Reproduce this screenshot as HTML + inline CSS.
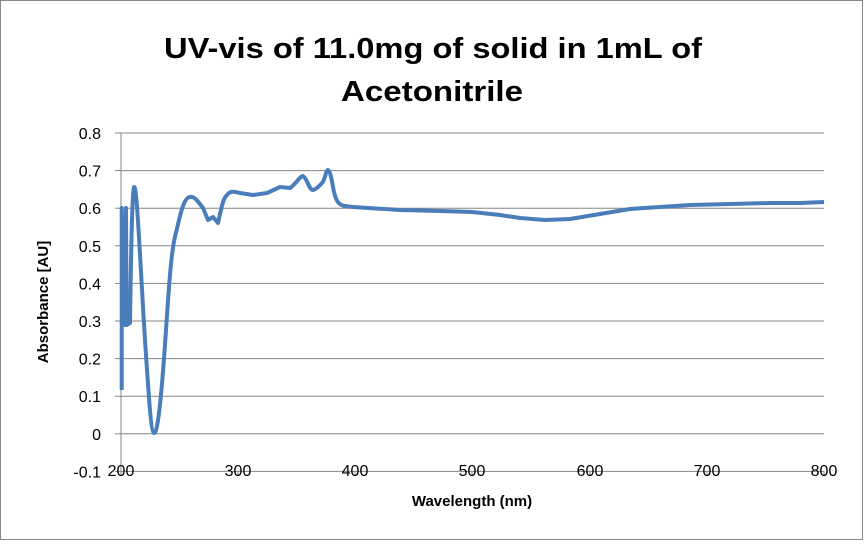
<!DOCTYPE html>
<html><head><style>body{margin:0;background:#fff}</style></head><body>
<svg width="864" height="541" viewBox="0 0 864 541" xmlns="http://www.w3.org/2000/svg" font-family="Liberation Sans, sans-serif">
<rect x="0.5" y="0.5" width="862" height="539" fill="#fff" stroke="#888"/>
<text x="433" y="58" font-size="29" font-weight="bold" text-anchor="middle" textLength="538" lengthAdjust="spacingAndGlyphs">UV-vis of 11.0mg of solid in 1mL of</text>
<text x="432" y="101" font-size="29" font-weight="bold" text-anchor="middle" textLength="182" lengthAdjust="spacingAndGlyphs">Acetonitrile</text>
<g stroke="#868686" stroke-width="1">
<line x1="121" y1="133" x2="824" y2="133"/><line x1="121" y1="170.6" x2="824" y2="170.6"/>
<line x1="121" y1="208.2" x2="824" y2="208.2"/><line x1="121" y1="245.8" x2="824" y2="245.8"/>
<line x1="121" y1="283.4" x2="824" y2="283.4"/><line x1="121" y1="321" x2="824" y2="321"/>
<line x1="121" y1="358.6" x2="824" y2="358.6"/><line x1="121" y1="396.2" x2="824" y2="396.2"/>
<line x1="121" y1="433.8" x2="824" y2="433.8"/><line x1="115" y1="471.4" x2="824" y2="471.4"/>
<line x1="121" y1="133" x2="121" y2="476"/>
<line x1="238" y1="471" x2="238" y2="476"/><line x1="355" y1="471" x2="355" y2="476"/><line x1="472" y1="471" x2="472" y2="476"/><line x1="590" y1="471" x2="590" y2="476"/><line x1="707" y1="471" x2="707" y2="476"/><line x1="824" y1="471" x2="824" y2="476"/>
<line x1="115" y1="133" x2="121" y2="133"/><line x1="115" y1="170.6" x2="121" y2="170.6"/><line x1="115" y1="208.2" x2="121" y2="208.2"/><line x1="115" y1="245.8" x2="121" y2="245.8"/><line x1="115" y1="283.4" x2="121" y2="283.4"/><line x1="115" y1="321" x2="121" y2="321"/><line x1="115" y1="358.6" x2="121" y2="358.6"/><line x1="115" y1="396.2" x2="121" y2="396.2"/><line x1="115" y1="433.8" x2="121" y2="433.8"/>
</g>
<g font-size="16" text-anchor="end">
<text x="101" y="139">0.8</text><text x="101" y="176.6">0.7</text><text x="101" y="214.2">0.6</text><text x="101" y="251.8">0.5</text><text x="101" y="289.4">0.4</text><text x="101" y="327">0.3</text><text x="101" y="364.6">0.2</text><text x="101" y="402.2">0.1</text><text x="101" y="439.8">0</text><text x="101" y="477.4">-0.1</text>
</g>
<g font-size="16" text-anchor="middle">
<text x="121" y="476">200</text><text x="238" y="476">300</text><text x="355" y="476">400</text><text x="472" y="476">500</text><text x="590" y="476">600</text><text x="707" y="476">700</text><text x="824" y="476">800</text>
</g>
<text x="472" y="506" font-size="15" font-weight="bold" text-anchor="middle">Wavelength (nm)</text>
<text transform="translate(48,302) rotate(-90)" font-size="15" font-weight="bold" text-anchor="middle">Absorbance [AU]</text>
<path fill="none" stroke="#4a7ebb" stroke-width="4" stroke-linejoin="round" d="M121.7,390 L121.7,208 L125,325 L126,208 L126.7,325 L130,323 C131,260 132,187 134.3,187 C137,187 140,260 145,340 C149,400 151,433 154.3,433 C158,433 162,390 166,330 C170,270 172,245 176.7,230 C181,210 185,197 190,197 C194,196 197,200 203,208 L208,220 L213,217 L218,223 C221,210 223,198 227,195 C230,191 233,191 240,193 L253,195 L267,193 L280,187 L290,188 C295,185 300,176 303,176 C307,178 309,190 313,190 C317,189 320,185 322,183 C325,180 326,170 328,170 C331,172 332,183 334,192 C336,200 338,205 345,206 L353,207 L400,210 L440,211 L472,212 L500,215 L520,218 L545,220 L570,219 L600,214 L630,209 L660,207 L690,205 L730,204 L770,203 L800,203 L824,202"/>
</svg>
</body></html>
